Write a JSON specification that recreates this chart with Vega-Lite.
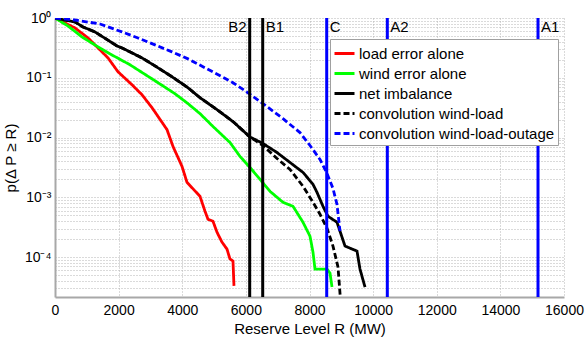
{
  "$schema": "https://vega.github.io/schema/vega-lite/v6.json",
  "width": 509,
  "height": 279,
  "autosize": {"type": "none"},
  "padding": {"left": 55, "top": 18, "right": 21, "bottom": 45},
  "config": {
    "font": "Liberation Sans",
    "view": {"stroke": null},
    "axis": {
      "domainColor": "#a8a8a8",
      "domainWidth": 2,
      "gridColor": "#b4b4b4",
      "gridDash": [1, 2],
      "gridWidth": 1,
      "ticks": false,
      "labelFontSize": 14,
      "labelColor": "#000000",
      "titleFontSize": 15,
      "titleFontWeight": "normal",
      "titleColor": "#000000"
    },
    "legend": {
      "orient": "none",
      "legendX": 275,
      "legendY": 21,
      "title": null,
      "symbolType": "stroke",
      "symbolSize": 400,
      "symbolStrokeWidth": 3,
      "labelFontSize": 15,
      "labelLimit": 400,
      "labelColor": "#000000",
      "fillColor": "#ffffff",
      "strokeColor": "#a0a0a0",
      "padding": 3,
      "rowPadding": -2,
      "labelOffset": 3
    }
  },
  "datasets": {
    "curves": [
      {"series": "load error alone", "R": 0, "p": 1},
      {"series": "load error alone", "R": 629, "p": 0.681},
      {"series": "load error alone", "R": 1037, "p": 0.464},
      {"series": "load error alone", "R": 1352, "p": 0.316},
      {"series": "load error alone", "R": 1666, "p": 0.215},
      {"series": "load error alone", "R": 1980, "p": 0.126},
      {"series": "load error alone", "R": 2420, "p": 0.0764},
      {"series": "load error alone", "R": 2735, "p": 0.052},
      {"series": "load error alone", "R": 3049, "p": 0.0316},
      {"series": "load error alone", "R": 3520, "p": 0.0136},
      {"series": "load error alone", "R": 3709, "p": 0.0071},
      {"series": "load error alone", "R": 3992, "p": 0.0033},
      {"series": "load error alone", "R": 4149, "p": 0.00178},
      {"series": "load error alone", "R": 4558, "p": 0.00104},
      {"series": "load error alone", "R": 4715, "p": 0.000585},
      {"series": "load error alone", "R": 4809, "p": 0.00043},
      {"series": "load error alone", "R": 4966, "p": 0.000398},
      {"series": "load error alone", "R": 5092, "p": 0.000261},
      {"series": "load error alone", "R": 5249, "p": 0.000178},
      {"series": "load error alone", "R": 5406, "p": 0.000136},
      {"series": "load error alone", "R": 5500, "p": 0.000093},
      {"series": "load error alone", "R": 5595, "p": 0.000086},
      {"series": "load error alone", "R": 5626, "p": 0.000033},

      {"series": "wind error alone", "R": 0, "p": 1},
      {"series": "wind error alone", "R": 409, "p": 0.735},
      {"series": "wind error alone", "R": 849, "p": 0.482},
      {"series": "wind error alone", "R": 1352, "p": 0.329},
      {"series": "wind error alone", "R": 1729, "p": 0.251},
      {"series": "wind error alone", "R": 2357, "p": 0.165},
      {"series": "wind error alone", "R": 3143, "p": 0.0891},
      {"series": "wind error alone", "R": 3772, "p": 0.0541},
      {"series": "wind error alone", "R": 4181, "p": 0.0369},
      {"series": "wind error alone", "R": 4558, "p": 0.0251},
      {"series": "wind error alone", "R": 4967, "p": 0.0153},
      {"series": "wind error alone", "R": 5501, "p": 0.00825},
      {"series": "wind error alone", "R": 5815, "p": 0.00483},
      {"series": "wind error alone", "R": 6130, "p": 0.00316},
      {"series": "wind error alone", "R": 6444, "p": 0.002},
      {"series": "wind error alone", "R": 6758, "p": 0.00126},
      {"series": "wind error alone", "R": 7167, "p": 0.000825},
      {"series": "wind error alone", "R": 7481, "p": 0.000708},
      {"series": "wind error alone", "R": 7795, "p": 0.000383},
      {"series": "wind error alone", "R": 8015, "p": 0.000224},
      {"series": "wind error alone", "R": 8110, "p": 0.000121},
      {"series": "wind error alone", "R": 8173, "p": 0.0000631},
      {"series": "wind error alone", "R": 8550, "p": 0.0000631},
      {"series": "wind error alone", "R": 8644, "p": 0.0000541},
      {"series": "wind error alone", "R": 8707, "p": 0.0000316},

      {"series": "net imbalance", "R": 0, "p": 1},
      {"series": "net imbalance", "R": 629, "p": 0.858},
      {"series": "net imbalance", "R": 880, "p": 0.708},
      {"series": "net imbalance", "R": 1257, "p": 0.585},
      {"series": "net imbalance", "R": 1949, "p": 0.341},
      {"series": "net imbalance", "R": 2106, "p": 0.316},
      {"series": "net imbalance", "R": 2735, "p": 0.215},
      {"series": "net imbalance", "R": 3143, "p": 0.158},
      {"series": "net imbalance", "R": 3678, "p": 0.104},
      {"series": "net imbalance", "R": 4181, "p": 0.0681},
      {"series": "net imbalance", "R": 4558, "p": 0.0464},
      {"series": "net imbalance", "R": 5092, "p": 0.0293},
      {"series": "net imbalance", "R": 5595, "p": 0.0185},
      {"series": "net imbalance", "R": 6130, "p": 0.0102},
      {"series": "net imbalance", "R": 6538, "p": 0.00794},
      {"series": "net imbalance", "R": 6978, "p": 0.00562},
      {"series": "net imbalance", "R": 7387, "p": 0.00383},
      {"series": "net imbalance", "R": 7796, "p": 0.00261},
      {"series": "net imbalance", "R": 8110, "p": 0.00165},
      {"series": "net imbalance", "R": 8236, "p": 0.00121},
      {"series": "net imbalance", "R": 8424, "p": 0.000708},
      {"series": "net imbalance", "R": 8581, "p": 0.000482},
      {"series": "net imbalance", "R": 8864, "p": 0.000383},
      {"series": "net imbalance", "R": 8959, "p": 0.000271},
      {"series": "net imbalance", "R": 9116, "p": 0.000153},
      {"series": "net imbalance", "R": 9493, "p": 0.000126},
      {"series": "net imbalance", "R": 9587, "p": 0.0000631},
      {"series": "net imbalance", "R": 9744, "p": 0.0000316},

      {"series": "convolution wind-load", "R": 0, "p": 1},
      {"series": "convolution wind-load", "R": 629, "p": 0.858},
      {"series": "convolution wind-load", "R": 880, "p": 0.708},
      {"series": "convolution wind-load", "R": 1257, "p": 0.585},
      {"series": "convolution wind-load", "R": 1949, "p": 0.341},
      {"series": "convolution wind-load", "R": 2106, "p": 0.316},
      {"series": "convolution wind-load", "R": 2735, "p": 0.215},
      {"series": "convolution wind-load", "R": 3143, "p": 0.158},
      {"series": "convolution wind-load", "R": 3678, "p": 0.104},
      {"series": "convolution wind-load", "R": 4181, "p": 0.0681},
      {"series": "convolution wind-load", "R": 4558, "p": 0.0464},
      {"series": "convolution wind-load", "R": 5092, "p": 0.0293},
      {"series": "convolution wind-load", "R": 5595, "p": 0.0185},
      {"series": "convolution wind-load", "R": 6130, "p": 0.0102},
      {"series": "convolution wind-load", "R": 6538, "p": 0.00736},
      {"series": "convolution wind-load", "R": 6978, "p": 0.00447},
      {"series": "convolution wind-load", "R": 7387, "p": 0.00293},
      {"series": "convolution wind-load", "R": 7796, "p": 0.00153},
      {"series": "convolution wind-load", "R": 8110, "p": 0.000825},
      {"series": "convolution wind-load", "R": 8330, "p": 0.000521},
      {"series": "convolution wind-load", "R": 8550, "p": 0.000304},
      {"series": "convolution wind-load", "R": 8738, "p": 0.000153},
      {"series": "convolution wind-load", "R": 8896, "p": 0.0000681},
      {"series": "convolution wind-load", "R": 8990, "p": 0.000015},

      {"series": "convolution wind-load-outage", "R": 0, "p": 1},
      {"series": "convolution wind-load-outage", "R": 629, "p": 0.926},
      {"series": "convolution wind-load-outage", "R": 1415, "p": 0.794},
      {"series": "convolution wind-load-outage", "R": 2106, "p": 0.585},
      {"series": "convolution wind-load-outage", "R": 2609, "p": 0.464},
      {"series": "convolution wind-load-outage", "R": 3143, "p": 0.355},
      {"series": "convolution wind-load-outage", "R": 3678, "p": 0.271},
      {"series": "convolution wind-load-outage", "R": 4181, "p": 0.207},
      {"series": "convolution wind-load-outage", "R": 4715, "p": 0.147},
      {"series": "convolution wind-load-outage", "R": 5249, "p": 0.104},
      {"series": "convolution wind-load-outage", "R": 5595, "p": 0.0825},
      {"series": "convolution wind-load-outage", "R": 5972, "p": 0.0607},
      {"series": "convolution wind-load-outage", "R": 6538, "p": 0.0369},
      {"series": "convolution wind-load-outage", "R": 7167, "p": 0.0207},
      {"series": "convolution wind-load-outage", "R": 7701, "p": 0.0121},
      {"series": "convolution wind-load-outage", "R": 8016, "p": 0.00736},
      {"series": "convolution wind-load-outage", "R": 8330, "p": 0.0043},
      {"series": "convolution wind-load-outage", "R": 8550, "p": 0.00251},
      {"series": "convolution wind-load-outage", "R": 8738, "p": 0.00141},
      {"series": "convolution wind-load-outage", "R": 8864, "p": 0.000764},
      {"series": "convolution wind-load-outage", "R": 8959, "p": 0.000271}
    ],
    "levels": [
      {"name": "B2", "kind": "B", "R": 6120},
      {"name": "B1", "kind": "B", "R": 6529},
      {"name": "C", "kind": "AC", "R": 8541},
      {"name": "A2", "kind": "AC", "R": 10446},
      {"name": "A1", "kind": "AC", "R": 15183}
    ]
  },
  "layer": [
    {
      "data": {"name": "curves"},
      "mark": {"type": "line", "strokeWidth": 2.8, "clip": true},
      "encoding": {
        "x": {
          "field": "R", "type": "quantitative",
          "scale": {"domain": [0, 16000], "nice": false, "zero": false},
          "axis": {"values": [0, 2000, 4000, 6000, 8000, 10000, 12000, 14000, 16000], "format": "d", "title": "Reserve Level R (MW)", "labelPadding": 6, "titlePadding": 4, "labelFlush": false}
        },
        "y": {
          "field": "p", "type": "quantitative",
          "scale": {"type": "log", "domain": [0.0000215, 1], "nice": false},
          "axis": {
            "title": "p(Δ P ≥ R)",
            "values": [0.00003, 0.00004, 0.00005, 0.00006, 0.00007, 0.00008, 0.00009, 0.0001, 0.0002, 0.0003, 0.0004, 0.0005, 0.0006, 0.0007, 0.0008, 0.0009, 0.001, 0.002, 0.003, 0.004, 0.005, 0.006, 0.007, 0.008, 0.009, 0.01, 0.02, 0.03, 0.04, 0.05, 0.06, 0.07, 0.08, 0.09, 0.1, 0.2, 0.3, 0.4, 0.5, 0.6, 0.7, 0.8, 0.9, 1],
            "labelExpr": "datum.value == 1 ? '10⁰' : datum.value == 0.1 ? '10⁻¹' : datum.value == 0.01 ? '10⁻²' : datum.value == 0.001 ? '10⁻³' : datum.value == 0.0001 ? '10⁻⁴' : ''",
            "labelPadding": 4,
            "labelFlush": false,
            "titlePadding": 6
          }
        },
        "color": {
          "field": "series", "type": "nominal",
          "scale": {
            "domain": ["load error alone", "wind error alone", "net imbalance", "convolution wind-load", "convolution wind-load-outage"],
            "range": ["#ff0000", "#00ff00", "#000000", "#000000", "#0000ff"]
          },
          "legend": {"title": null}
        },
        "strokeDash": {
          "field": "series", "type": "nominal",
          "scale": {
            "domain": ["load error alone", "wind error alone", "net imbalance", "convolution wind-load", "convolution wind-load-outage"],
            "range": [[1, 0], [1, 0], [1, 0], [6, 3], [6, 3]]
          },
          "legend": {"title": null}
        }
      }
    },
    {
      "data": {"name": "levels"},
      "transform": [{"filter": "datum.kind == 'B'"}],
      "mark": {"type": "rule", "color": "#000000", "strokeWidth": 3},
      "encoding": {"x": {"field": "R", "type": "quantitative"}}
    },
    {
      "data": {"name": "levels"},
      "transform": [{"filter": "datum.kind == 'AC'"}],
      "mark": {"type": "rule", "color": "#0000ff", "strokeWidth": 3},
      "encoding": {"x": {"field": "R", "type": "quantitative"}}
    },
    {
      "data": {"name": "levels"},
      "transform": [{"filter": "datum.name == 'B2'"}],
      "mark": {"type": "text", "align": "right", "baseline": "top", "dx": -3, "dy": 2, "fontSize": 15, "color": "#000000"},
      "encoding": {
        "x": {"field": "R", "type": "quantitative"},
        "y": {"datum": 1},
        "text": {"field": "name"}
      }
    },
    {
      "data": {"name": "levels"},
      "transform": [{"filter": "datum.name != 'B2'"}],
      "mark": {"type": "text", "align": "left", "baseline": "top", "dx": 3, "dy": 2, "fontSize": 15, "color": "#000000"},
      "encoding": {
        "x": {"field": "R", "type": "quantitative"},
        "y": {"datum": 1},
        "text": {"field": "name"}
      }
    }
  ]
}
